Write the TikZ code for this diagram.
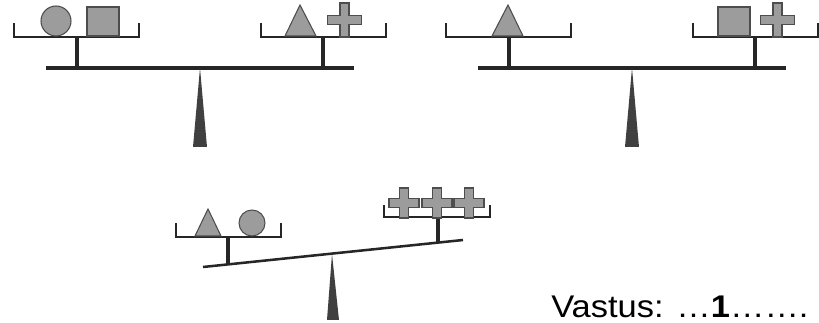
\documentclass[tikz,border=0pt]{standalone}
\usepackage{fontspec}
\setmainfont{Liberation Sans}
\newfontfamily\answerfont[FakeStretch=1.1]{Liberation Sans}
\usepackage{tikz}
\usetikzlibrary{positioning}
\definecolor{beamgray}{HTML}{262626}
\definecolor{pivotgray}{HTML}{404040}
\definecolor{weightfill}{HTML}{9C9C9C}
\definecolor{weightline}{HTML}{4D4D4D}
% pan: left x, right x, tray y, rim y
\newcommand{\scalepan}[4]{\draw[tray] (#1,#4) -- (#1,#3) -- (#2,#3) -- (#2,#4);}
% plus weight: centre x, centre y, half size, half bar
\newcommand{\plusweight}[4]{\draw[weight] ({#1-#4},{#2-#3}) -- ({#1+#4},{#2-#3}) -- ({#1+#4},{#2-#4}) -- ({#1+#3},{#2-#4}) -- ({#1+#3},{#2+#4}) -- ({#1+#4},{#2+#4}) -- ({#1+#4},{#2+#3}) -- ({#1-#4},{#2+#3}) -- ({#1-#4},{#2+#4}) -- ({#1-#3},{#2+#4}) -- ({#1-#3},{#2-#4}) -- ({#1-#4},{#2-#4}) -- cycle;}

\begin{document}
\begin{tikzpicture}[x=0.75pt, y=-0.75pt,
    beam/.style={draw=beamgray, line width=2.5pt},
    post/.style={draw=beamgray, line width=2.4pt},
    tray/.style={draw=beamgray, line width=2pt},
    pivot/.style={fill=pivotgray},
    weight/.style={draw=weightline, fill=weightfill, line width=0.8pt}]
    \useasboundingbox (0,0) rectangle (819,323);

    % first scale: circle, square vs triangle, plus
    \draw[beam] (46,68) -- (354,68);
    \fill[pivot] (200,68) -- (207,147) -- (193,147) -- cycle;
    \draw[post] (77,37) -- (77,68);
    \draw[post] (323,37) -- (323,68);
    \scalepan{14}{139}{37}{23}
    \scalepan{261}{386}{37}{23}
    \draw[weight] (56,21) circle (15);
    \draw[weight] (87,7) rectangle (119,36);
    \draw[weight] (285,36) -- (300,5) -- (316,36) -- cycle;
    \plusweight{344.5}{20}{17}{4.5}

    % second scale: triangle vs square, plus
    \begin{scope}[shift={(432,0)}]
        \draw[beam] (46,68) -- (354,68);
        \fill[pivot] (200,68) -- (207,147) -- (193,147) -- cycle;
        \draw[post] (77,37) -- (77,68);
        \draw[post] (323,37) -- (323,68);
        \scalepan{14}{139}{37}{23}
        \scalepan{261}{386}{37}{23}
        \draw[weight] (60,36) -- (76,5) -- (91,36) -- cycle;
        \draw[weight] (286,7) rectangle (318,36);
        \plusweight{345.5}{20}{17}{4.5}
    \end{scope}

    % third scale: triangle, circle vs three plus
    \draw[beam, line width=1.9pt] (203,267) -- (463,240);
    \fill[pivot] (332,254) -- (339,320) -- (327,320) -- cycle;
    \draw[post] (228,237) -- (228,265);
    \draw[post] (438,217) -- (438,243);
    \scalepan{176}{281}{237}{223}
    \scalepan{384}{490}{217}{205}
    \draw[weight] (195,236) -- (208,209) -- (221,236) -- cycle;
    \draw[weight] (252,223) circle (13);
    \foreach \cx in {404,437,469} {
        \plusweight{\cx}{203}{15}{4.5}
    }

    \node[anchor=base west, inner sep=0pt, font=\answerfont\fontsize{23.5}{28}\selectfont] (answer) at (551,318) {Vastus: …\textbf{1}…….};
\end{tikzpicture}
\end{document}
